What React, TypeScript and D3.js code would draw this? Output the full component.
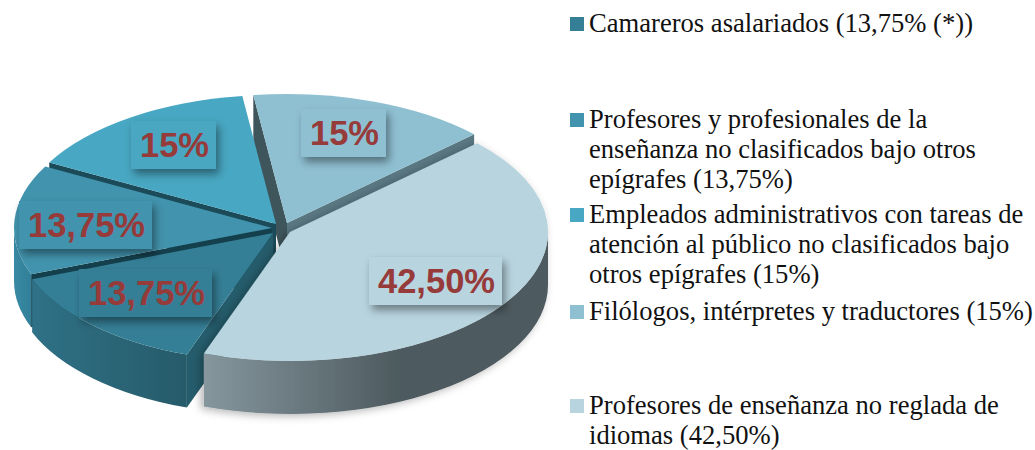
import React from "react";
import * as d3 from "d3";

const labels = ["42,50%", "13,75%", "13,75%", "15%", "15%"];
const values = [42.5, 13.75, 13.75, 15, 15];
const legendLines = [
  ["Camareros asalariados (13,75% (*))"],
  ["Profesores y profesionales de la", "enseñanza no clasificados bajo otros", "epígrafes (13,75%)"],
  ["Empleados administrativos con tareas de", "atención al público no clasificados bajo", "otros epígrafes (15%)"],
  ["Filólogos, intérpretes y traductores (15%)"],
  ["Profesores de enseñanza no reglada de", "idiomas (42,50%)"],
];

const RX = 258;
const RY = 129;
const DEPTH = 53;
const START = (46.5 * Math.PI) / 180;
const centers = [[290, 232], [273, 233], [272, 228], [276, 224], [287, 223]];
const topColors = ["#b8d4df", "#357f96", "#4293ad", "#48a7c2", "#8fc0d2"];
const wallA = ["#85969d", "#2f7186", "#3a8aa5", "#3a8ba6", "#3f555c"];
const wallB = ["#4d5a5f", "#265b6a", "#2f7d96", "#2f7a93", "#5a7883"];
const rects = [[369, 257, 133, 48], [79, 269, 133, 48], [19, 201, 133, 48], [131, 121, 85, 48], [301, 109, 85, 48]];
const legendSwatch = ["#357f96", "#4293ad", "#48a7c2", "#8fc0d2", "#b8d4df"];
const legendY = [32, 128, 223, 320, 414];
const drawOrder = [4, 3, 2, 1, 0];

const arcGen = d3.arc<d3.PieArcDatum<number>>().innerRadius(0).outerRadius(RX);
const pieGen = d3.pie<number>().sort(null).startAngle(START).endAngle(START + 2 * Math.PI);

const pt = (a: number, cx: number, cy: number, dy = 0): [number, number] => [
  cx + RX * Math.sin(a),
  cy - RY * Math.cos(a) + dy,
];

// Outer wall: only the part of the arc that faces the viewer (angles 90..270 deg)
function outerWall(a0: number, a1: number, cx: number, cy: number) {
  const lo = Math.max(a0, Math.PI / 2);
  const hi = Math.min(a1, (3 * Math.PI) / 2);
  if (hi <= lo) return "";
  const [x0, y0] = pt(lo, cx, cy);
  const [x1, y1] = pt(hi, cx, cy);
  return `M${x0},${y0}A${RX},${RY} 0 0 1 ${x1},${y1}L${x1},${y1 + DEPTH}A${RX},${RY} 0 0 0 ${x0},${y0 + DEPTH}Z`;
}

function sideWall(a: number, cx: number, cy: number) {
  const [x, y] = pt(a, cx, cy);
  return `M${cx},${cy}L${x},${y}L${x},${y + DEPTH}L${cx},${cy + DEPTH}Z`;
}

export default function App() {
  const arcs = pieGen(values);
  return (
    <svg width={1035} height={450} style={{ position: "absolute", left: 0, top: 0 }}>
      <defs>
        <filter id="rs" x="-30%" y="-30%" width="170%" height="170%">
          <feDropShadow dx="3" dy="5" stdDeviation="4.5" floodColor="#000" floodOpacity="0.42" />
        </filter>
        <filter id="sl" x="-10%" y="-10%" width="120%" height="120%">
          <feDropShadow dx="-3" dy="2" stdDeviation="4" floodColor="#000" floodOpacity="0.3" />
        </filter>
        {arcs.map((d, i) => (
          <linearGradient key={i} id={`w${i}`} gradientUnits="userSpaceOnUse"
            x1={i === 0 ? 205 : i === 1 ? 33 : 14} x2={i === 0 ? 400 : i === 1 ? 185 : 35} y1={0} y2={0}>
            <stop offset="0" stopColor={wallA[i]} />
            <stop offset="1" stopColor={wallB[i]} />
          </linearGradient>
        ))}
      </defs>
      {drawOrder.map((i) => {
        const d = arcs[i];
        const [cx, cy] = centers[i];
        return (
          <g key={i} filter={i === 0 ? "url(#sl)" : undefined}>
            {i === 4 && <path d={sideWall(d.endAngle, cx, cy)} fill="#5a7883" />}
            {i === 4 && <path d={sideWall(d.startAngle, cx, cy)} fill="#3f555c" />}
            {i === 3 && <path d={sideWall(d.startAngle, cx, cy)} fill="#1b4a58" />}
            {i === 2 && <path d={sideWall(d.startAngle, cx, cy)} fill="#143f4c" />}
            {i === 1 && <path d={sideWall(d.startAngle, cx, cy)} fill="#255c6b" />}
            <path d={outerWall(d.startAngle, d.endAngle, cx, cy)} fill={`url(#w${i})`} />
            <path d={arcGen(d) as string} transform={`translate(${cx},${cy}) scale(1,${RY / RX})`} fill={topColors[i]} />
          </g>
        );
      })}
      {drawOrder.map((i) => {
        const [x, y, w, h] = rects[i];
        return (
          <g key={i}>
            <rect x={x} y={y} width={w} height={h} fill={topColors[i]} filter="url(#rs)" />
            <text x={x + w / 2 + 1} y={y + 36} textAnchor="middle" fontFamily="Liberation Sans" fontWeight="bold" fontSize={34.5} fill="#963a3a">
              {labels[i]}
            </text>
          </g>
        );
      })}
      {legendLines.map((lines, i) => (
        <g key={i}>
          <rect x={570} y={legendY[i] - 15} width={14} height={14} fill={legendSwatch[i]} />
          {lines.map((t, j) => (
            <text key={j} x={589} y={legendY[i] + j * 30} fontFamily="Liberation Serif" fontSize={26.6} fill="#111">
              {t}
            </text>
          ))}
        </g>
      ))}
    </svg>
  );
}
